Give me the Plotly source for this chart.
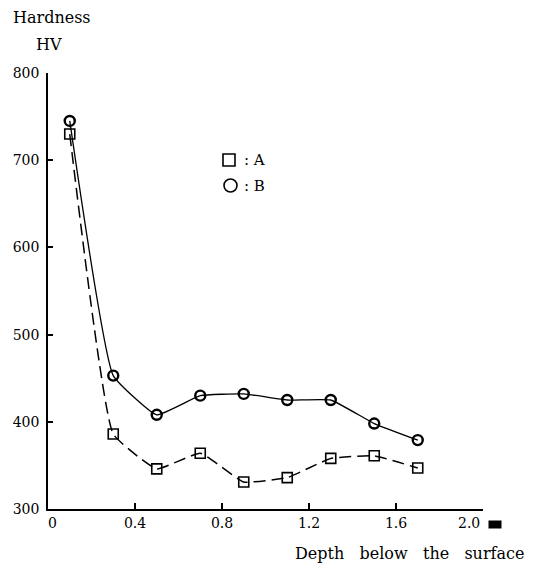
import plotly.graph_objects as go

depth = [0.1, 0.3, 0.5, 0.7, 0.9, 1.1, 1.3, 1.5, 1.7]
hardness_a = [730, 386, 346, 364, 331, 336, 358, 361, 347]
hardness_b = [745, 453, 408, 430, 432, 425, 425, 398, 379]
x_ticks = [0, 0.4, 0.8, 1.2, 1.6, 2.0]
x_labels = ["0", "0.4", "0.8", "1.2", "1.6", "2.0"]
y_ticks = [300, 400, 500, 600, 700, 800]

FONT = "DejaVu Serif"

fig = go.Figure()
fig.add_trace(go.Scatter(
    x=depth, y=hardness_a, mode="lines+markers", name="A",
    line=dict(color="black", width=1.5, dash="12px,6px", shape="spline", smoothing=0.35),
    marker=dict(symbol="square-open", size=10, color="black", line=dict(width=1.6)),
))
fig.add_trace(go.Scatter(
    x=depth, y=hardness_b, mode="lines+markers", name="B",
    line=dict(color="black", width=1.3, shape="spline", smoothing=0.35),
    marker=dict(symbol="circle-open", size=10, color="black", line=dict(width=2.4)),
))

L, T, R, B = 48, 73, 50, 59
W, H = 533, 568
PW, PH = W - L - R, H - T - B


def px(x):
    return (x - L) / PW


def py(y):
    return (H - B - y) / PH


# tick labels: first one nudged right, last one drawn left of its tick (as in the original)
shown_labels = ["\u00a0\u00a0" + x_labels[0]] + x_labels[1:-1] + [""]

fig.update_layout(
    width=W, height=H,
    margin=dict(l=L, r=R, t=T, b=B),
    paper_bgcolor="white", plot_bgcolor="white",
    showlegend=False,
    font=dict(family=FONT, size=14, color="black"),
    xaxis=dict(range=[0, 2.0], tickvals=x_ticks, ticktext=shown_labels,
               showline=True, linecolor="black", linewidth=1.5,
               ticks="inside", ticklen=6, tickwidth=1.5, tickcolor="black",
               showgrid=False, zeroline=False, tickfont=dict(size=14, family=FONT)),
    yaxis=dict(range=[300, 800], tickvals=y_ticks,
               showline=True, linecolor="black", linewidth=1.5,
               ticks="inside", ticklen=5, tickwidth=1.5, tickcolor="black",
               ticklabelstandoff=4,
               showgrid=False, zeroline=False, tickfont=dict(size=14, family=FONT)),
)

fig.add_annotation(text=x_labels[-1], xref="x", yref="paper", x=x_ticks[-1], y=py(523),
                   xanchor="right", yanchor="middle", xshift=-1, showarrow=False,
                   font=dict(size=14, family=FONT))
fig.add_annotation(text="mm", xref="paper", yref="paper", x=px(488), y=py(524),
                   xanchor="left", yanchor="middle", showarrow=False,
                   font=dict(size=6, family="DejaVu Sans", color="black"), bgcolor="black", borderpad=0)

fig.add_annotation(text="Hardness", xref="paper", yref="paper", x=px(11), y=py(17),
                   xanchor="left", yanchor="middle", showarrow=False, font=dict(size=16, family=FONT))
fig.add_annotation(text="HV", xref="paper", yref="paper", x=px(34), y=py(44),
                   xanchor="left", yanchor="middle", showarrow=False, font=dict(size=16, family=FONT))
fig.add_annotation(text="Depth   below   the   surface", xref="paper", yref="paper", x=px(526), y=py(553),
                   xanchor="right", yanchor="middle", showarrow=False, font=dict(size=16, family=FONT))

# legend keys
fig.add_shape(type="rect", xref="paper", yref="paper",
              x0=px(223), x1=px(235), y0=py(166), y1=py(154),
              line=dict(color="black", width=1.6), fillcolor="rgba(0,0,0,0)")
fig.add_shape(type="circle", xref="paper", yref="paper",
              x0=px(224), x1=px(237), y0=py(192), y1=py(179),
              line=dict(color="black", width=1.6), fillcolor="rgba(0,0,0,0)")
fig.add_annotation(text=": A", xref="paper", yref="paper", x=px(242), y=py(160),
                   xanchor="left", yanchor="middle", showarrow=False, font=dict(size=15, family=FONT))
fig.add_annotation(text=": B", xref="paper", yref="paper", x=px(242), y=py(186),
                   xanchor="left", yanchor="middle", showarrow=False, font=dict(size=15, family=FONT))

fig.write_html("out.html", config={"displayModeBar": False},
               post_script="document.body.style.margin='0';")
